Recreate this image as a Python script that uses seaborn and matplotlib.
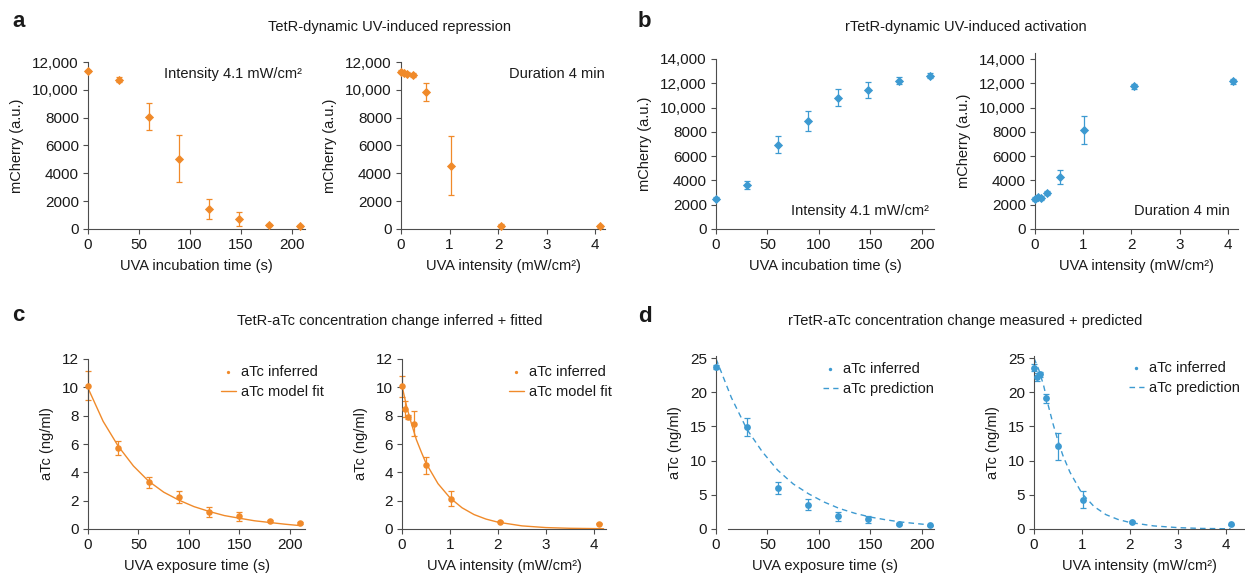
import matplotlib
matplotlib.use("Agg")
import matplotlib.pyplot as plt
import seaborn as sns
from matplotlib.ticker import FuncFormatter

# x values
time_ab = [0, 30, 60, 89, 119, 148, 178, 208]
time_cd = [0, 30, 60, 90, 120, 150, 180, 210]
time_d = [0, 30, 60, 89, 119, 148, 178, 208]
intensity = [0, 0.064, 0.128, 0.256, 0.51, 1.025, 2.05, 4.1]

# a: TetR mCherry
a_time_mean = [11350, 10740, 8070, 5060, 1430, 740, 290, 210]
a_time_err = [80, 150, 980, 1680, 720, 500, 100, 100]
a_int_mean = [11300, 11200, 11150, 11050, 9850, 4550, 250, 200]
a_int_err = [100, 100, 100, 150, 650, 2100, 100, 100]

# b: rTetR mCherry
b_time_mean = [2500, 3620, 6940, 8890, 10820, 11420, 12220, 12630]
b_time_err = [120, 300, 690, 850, 710, 650, 300, 200]
b_int_mean = [2470, 2640, 2530, 2960, 4250, 8180, 11750, 12160]
b_int_err = [150, 150, 150, 200, 570, 1150, 200, 200]

# c: TetR aTc inferred + model fit
c_time_mean = [10.12, 5.72, 3.29, 2.26, 1.20, 0.89, 0.56, 0.42]
c_time_err = [1.0, 0.5, 0.4, 0.4, 0.35, 0.3, 0.1, 0.05]
c_int_mean = [10.07, 8.47, 7.88, 7.43, 4.49, 2.14, 0.52, 0.38]
c_int_err = [0.75, 0.55, 0.15, 0.9, 0.6, 0.55, 0.05, 0.05]
fit_t = [0, 15, 30, 45, 60, 75, 90, 105, 120, 135, 150, 165, 180, 195, 210]
c_fit_time = [9.95, 7.6, 5.84, 4.45, 3.38, 2.6, 2.04, 1.58, 1.24, 0.95, 0.76, 0.58, 0.46, 0.34, 0.24]
c_fit_x = [0, 0.1, 0.2, 0.3, 0.4, 0.5, 0.75, 1.0, 1.25, 1.5, 1.75, 2.0, 2.5, 3.0, 3.5, 4.2]
c_fit_int = [10.1, 8.6, 7.4, 6.3, 5.45, 4.65, 3.2, 2.2, 1.5, 1.02, 0.7, 0.48, 0.22, 0.1, 0.05, 0.02]

# d: rTetR aTc inferred + prediction
d_time_mean = [23.64, 14.9, 5.97, 3.54, 1.84, 1.45, 0.73, 0.53]
d_time_err = [0.3, 1.3, 0.9, 0.8, 0.6, 0.5, 0.15, 0.1]
d_int_mean = [23.6, 22.2, 22.6, 19.1, 12.1, 4.3, 1.02, 0.68]
d_int_err = [0.5, 0.6, 0.4, 0.7, 2.0, 1.25, 0.1, 0.1]
d_pred_t = [0, 15, 30, 45, 60, 75, 90, 105, 120, 135, 150, 165, 180, 195, 208]
d_pred_time = [24.9, 19.2, 14.6, 11.3, 8.6, 6.6, 5.15, 3.95, 3.0, 2.3, 1.75, 1.35, 1.02, 0.79, 0.6]
d_pred_x = [0, 0.1, 0.2, 0.3, 0.4, 0.5, 0.6, 0.75, 1.0, 1.25, 1.5, 1.75, 2.0, 2.5, 3.0, 3.5, 4.1]
d_pred_int = [25.0, 23.3, 21.0, 18.0, 15.3, 12.9, 10.8, 8.3, 5.2, 3.3, 2.1, 1.4, 0.95, 0.45, 0.2, 0.08, 0.03]

ORANGE = "#F08A2A"
BLUE = "#3D9AD1"
AXCOL = "#4d4d4d"
FS = 10.5
TFS = 11

sns.set_theme(style="ticks")
plt.rcParams["font.family"] = ["Liberation Sans", "DejaVu Sans"]
plt.rcParams.update({
    "axes.edgecolor": AXCOL,
    "axes.linewidth": 0.8,
    "xtick.color": AXCOL,
    "ytick.color": AXCOL,
    "xtick.labelcolor": "#1a1a1a",
    "ytick.labelcolor": "#1a1a1a",
    "xtick.major.size": 3.5,
    "ytick.major.size": 3.5,
    "xtick.major.width": 0.8,
    "ytick.major.width": 0.8,
    "xtick.major.pad": 3,
    "ytick.major.pad": 3,
    "font.size": FS,
    "axes.labelsize": FS,
    "xtick.labelsize": TFS,
    "ytick.labelsize": TFS,
    "text.color": "#1a1a1a",
    "axes.labelcolor": "#1a1a1a",
})

W, H = 1245, 574
fig = plt.figure(figsize=(W / 100, H / 100), dpi=100)


def add_axes(l, r, t, b):
    return fig.add_axes([l / W, 1 - b / H, (r - l) / W, (b - t) / H])


def comma_fmt(v, pos):
    return f"{v:,.0f}" if v >= 10000 else f"{v:.0f}"


def draw_points(ax, x, y, err, color, marker, s, label=None):
    eb = ax.errorbar(x, y, yerr=err, fmt="none", ecolor=color, elinewidth=0.9,
                     capsize=2, capthick=0.9, zorder=2)
    for art in eb.lines[1] + eb.lines[2]:
        art.set_clip_on(False)
    sns.scatterplot(x=x, y=y, ax=ax, color=color, marker=marker, s=s,
                    linewidth=0, zorder=3, label=label, legend=False, clip_on=False)


def style(ax, xlim, ylim, xticks, yticks, xlabel, ylabel, comma=False):
    ax.set_xlim(*xlim)
    ax.set_ylim(*ylim)
    ax.set_xticks(xticks)
    ax.set_yticks(yticks)
    if comma:
        ax.yaxis.set_major_formatter(FuncFormatter(comma_fmt))
    ax.set_xlabel(xlabel, labelpad=5)
    ax.set_ylabel(ylabel, labelpad=6)
    sns.despine(ax=ax)


t_ticks = [0, 50, 100, 150, 200]
i_ticks = [0, 1, 2, 3, 4]
int_label = "UVA intensity (mW/cm²)"

# ---- a ----
ax = add_axes(88, 305, 62, 229)
draw_points(ax, time_ab, a_time_mean, a_time_err, ORANGE, "D", 22)
style(ax, (0, 213), (0, 12000), t_ticks, range(0, 12001, 2000),
      "UVA incubation time (s)", "mCherry (a.u.)", comma=True)
ax.text(0.986, 0.928, "Intensity 4.1 mW/cm²", transform=ax.transAxes,
        ha="right", va="center", fontsize=FS)

ax = add_axes(401, 605, 62, 229)
draw_points(ax, intensity, a_int_mean, a_int_err, ORANGE, "D", 22)
style(ax, (0, 4.2), (0, 12000), i_ticks, range(0, 12001, 2000),
      int_label, "mCherry (a.u.)", comma=True)
ax.text(1.0, 0.928, "Duration 4 min", transform=ax.transAxes,
        ha="right", va="center", fontsize=FS)

# ---- b ----
ax = add_axes(716, 934, 59, 229)
draw_points(ax, time_ab, b_time_mean, b_time_err, BLUE, "D", 22)
style(ax, (0, 212), (0, 14000), t_ticks, range(0, 14001, 2000),
      "UVA incubation time (s)", "mCherry (a.u.)", comma=True)
ax.text(0.977, 0.106, "Intensity 4.1 mW/cm²", transform=ax.transAxes,
        ha="right", va="center", fontsize=FS)

ax = add_axes(1035, 1238, 53, 229)
draw_points(ax, intensity, b_int_mean, b_int_err, BLUE, "D", 22)
style(ax, (0, 4.21), (0, 14500), i_ticks, range(0, 14001, 2000),
      int_label, "mCherry (a.u.)", comma=True)
ax.text(0.96, 0.102, "Duration 4 min", transform=ax.transAxes,
        ha="right", va="center", fontsize=FS)


def legend(ax, x0, y0):
    handles, labels = ax.get_legend_handles_labels()
    ax.legend(handles=handles, labels=labels, loc="upper left",
              bbox_to_anchor=(x0 / W, 1 - y0 / H), bbox_transform=fig.transFigure,
              frameon=False, borderpad=0, borderaxespad=0, handlelength=1.0,
              handletextpad=0.35, labelspacing=0.42, markerscale=0.5, fontsize=FS)


# ---- c ----
ax = add_axes(88, 305, 359, 529)
draw_points(ax, time_cd, c_time_mean, c_time_err, ORANGE, "o", 22, "aTc inferred")
sns.lineplot(x=fit_t, y=c_fit_time, ax=ax, color=ORANGE, lw=1.0, label="aTc model fit", legend=False)
style(ax, (0, 215), (0, 12), t_ticks, range(0, 13, 2),
      "UVA exposure time (s)", "aTc (ng/ml)")
legend(ax, 221, 365)

ax = add_axes(402, 606, 359, 529)
draw_points(ax, intensity, c_int_mean, c_int_err, ORANGE, "o", 22, "aTc inferred")
sns.lineplot(x=c_fit_x, y=c_fit_int, ax=ax, color=ORANGE, lw=1.0, label="aTc model fit", legend=False)
style(ax, (0, 4.25), (0, 12), i_ticks, range(0, 13, 2),
      int_label, "aTc (ng/ml)")
legend(ax, 509, 365)

# ---- d ----
ax = add_axes(716, 934, 356, 529)
draw_points(ax, time_d, d_time_mean, d_time_err, BLUE, "o", 24, "aTc inferred")
sns.lineplot(x=d_pred_t, y=d_pred_time, ax=ax, color=BLUE, lw=1.0, linestyle=(0, (4, 3)),
             label="aTc prediction", legend=False)
style(ax, (0, 212), (0, 25.3), t_ticks, range(0, 26, 5),
      "UVA exposure time (s)", "aTc (ng/ml)")
ax.spines["bottom"].set_bounds(12, 212)
legend(ax, 823, 362)

ax = add_axes(1034, 1245, 356, 529)
draw_points(ax, intensity, d_int_mean, d_int_err, BLUE, "o", 24, "aTc inferred")
sns.lineplot(x=d_pred_x, y=d_pred_int, ax=ax, color=BLUE, lw=1.0, linestyle=(0, (4, 3)),
             label="aTc prediction", legend=False)
style(ax, (0, 4.4), (0, 25.3), i_ticks, range(0, 26, 5),
      int_label, "aTc (ng/ml)")
legend(ax, 1129, 361)

# titles and panel letters
fig.text(390 / W, 1 - 27 / H, "TetR-dynamic UV-induced repression", ha="center", va="center", fontsize=FS)
fig.text(966 / W, 1 - 27 / H, "rTetR-dynamic UV-induced activation", ha="center", va="center", fontsize=FS)
fig.text(390 / W, 1 - 321 / H, "TetR-aTc concentration change inferred + fitted", ha="center", va="center", fontsize=FS)
fig.text(965 / W, 1 - 321 / H, "rTetR-aTc concentration change measured + predicted", ha="center", va="center", fontsize=FS)
for letter, x, y in [("a", 12, 27), ("b", 638, 27), ("c", 12, 321), ("d", 638, 322)]:
    fig.text(x / W, 1 - y / H, letter, fontsize=16, fontweight="bold", va="baseline", ha="left")

fig.savefig("out.png", dpi=100)
